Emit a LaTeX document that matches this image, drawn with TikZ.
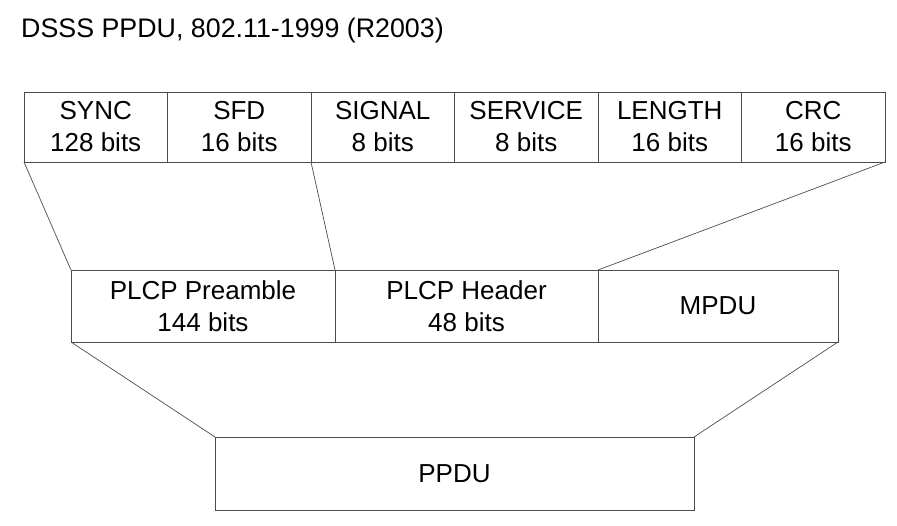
\documentclass[tikz,border=0pt]{standalone}
\usepackage{fontspec}
\setmainfont{Liberation Sans}
\usepackage{tikz}
\usetikzlibrary{positioning}

\begin{document}
\begin{tikzpicture}[
    field/.style={rectangle, draw=black!70, line width=0.7pt, inner sep=0pt, outer sep=0pt,
                  minimum width=143.5pt, minimum height=70pt, align=center,
                  font=\fontsize{26}{32}\selectfont},
    part/.style={field, minimum height=72pt},
    link/.style={draw=black!70, line width=0.7pt}
]
    \useasboundingbox (0pt,0pt) rectangle (897pt,-526pt);

    \node[anchor=base west, inner sep=0pt, font=\fontsize{26.8}{31}\selectfont] (title)
        at (21pt,-38pt) {DSSS PPDU, 802.11-1999 (R2003)};

    % fields of the PLCP
    \node[field, anchor=north west] (sync) at (24pt,-92pt) {SYNC\\128 bits};
    \node[field, right=0pt of sync] (sfd) {SFD\\16 bits};
    \node[field, right=0pt of sfd] (signal) {SIGNAL\\8 bits};
    \node[field, right=0pt of signal] (service) {SERVICE\\8 bits};
    \node[field, right=0pt of service] (length) {LENGTH\\16 bits};
    \node[field, right=0pt of length] (crc) {CRC\\16 bits};

    % PLCP and MPDU
    \node[part, anchor=north west, minimum width=264pt] (preamble) at (71pt,-270pt) {PLCP Preamble\\144 bits};
    \node[part, right=0pt of preamble, minimum width=263pt] (header) {PLCP Header\\48 bits};
    \node[part, right=0pt of header, minimum width=240pt] (mpdu) {MPDU};

    % whole frame
    \node[part, anchor=north west, minimum width=479pt, minimum height=73pt] (ppdu) at (215pt,-437pt) {PPDU};

    \draw[link] (sync.south west) -- (preamble.north west);
    \draw[link] (signal.south west) -- (header.north west);
    \draw[link] (crc.south east) -- (mpdu.north west);
    \draw[link] (preamble.south west) -- (ppdu.north west);
    \draw[link] (mpdu.south east) -- (ppdu.north east);
\end{tikzpicture}
\end{document}
